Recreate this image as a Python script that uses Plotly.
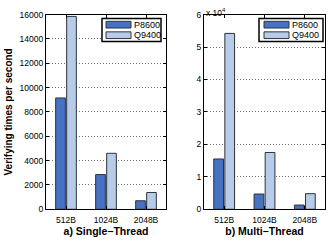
import plotly.graph_objects as go

categories = ["512B", "1024B", "2048B"]
single_p8600 = [9150, 2850, 700]
single_q9400 = [15850, 4600, 1380]
multi_p8600 = [15500, 4700, 1300]
multi_q9400 = [54200, 17500, 4800]
series_names = ["P8600", "Q9400"]
left_ticks = [0, 2000, 4000, 6000, 8000, 10000, 12000, 14000, 16000]
left_ticktext = ["0", "2000", "4000", "6000", "8000", "10000", "12000", "14000", "16000"]
right_ticks = [0, 10000, 20000, 30000, 40000, 50000, 60000]
right_ticktext = ["0", "1", "2", "3", "4", "5", "6"]

C1 = "rgb(70,114,196)"
C2 = "rgb(183,204,232)"
EDGE = "rgb(45,50,60)"
FONT = "Liberation Sans, Arial, sans-serif"
colors = [C1, C2]

fig = go.Figure()
for ys, ax in [((single_p8600, single_q9400), ("x", "y")), ((multi_p8600, multi_q9400), ("x2", "y2"))]:
    for name, vals, col in zip(series_names, ys, colors):
        fig.add_trace(go.Bar(x=categories, y=vals, name=name, showlegend=False,
                             marker=dict(color=col, line=dict(color=EDGE, width=1)),
                             xaxis=ax[0], yaxis=ax[1]))

W, H = 330, 244
def px(x):
    return x / W
def py(y):
    return 1 - y / H

axis_common = dict(showline=True, linecolor="black", linewidth=1.2, mirror="allticks",
                   ticks="inside", ticklen=3, tickcolor="black",
                   tickfont=dict(size=8.5, color="black", family=FONT))
grid = dict(showgrid=True, gridcolor="rgb(110,110,110)", griddash="1px,2px", gridwidth=1)

shapes = []
annotations = [dict(text="x 10<sup>4</sup>", x=px(204), y=py(0), xref="paper", yref="paper",
                    xanchor="left", yanchor="top", showarrow=False, font=dict(size=8.5))]

# manual MATLAB-style legends
for (bx0, bx1, sx0) in [(102, 161, 106), (259, 323, 264)]:
    shapes.append(dict(type="rect", xref="paper", yref="paper", x0=px(bx0), x1=px(bx1),
                       y0=py(38), y1=py(14), line=dict(color="black", width=1.5), fillcolor="white", layer="above"))
    for i, (name, col) in enumerate(zip(series_names, colors)):
        top = 17 + i * 11
        shapes.append(dict(type="rect", xref="paper", yref="paper", x0=px(sx0), x1=px(sx0 + 25),
                           y0=py(top + 7), y1=py(top), line=dict(color=EDGE, width=1), fillcolor=col, layer="above"))
        annotations.append(dict(text=name, x=px(sx0 + 26), y=py(top + 3.5), xref="paper", yref="paper",
                                xanchor="left", yanchor="middle", showarrow=False,
                                font=dict(size=9, color="black")))

fig.update_layout(
    width=W, height=H, margin=dict(l=0, r=0, t=0, b=0),
    paper_bgcolor="white", plot_bgcolor="white",
    barmode="group", bargap=0.45, bargroupgap=0.12,
    font=dict(family=FONT, color="black"),
    xaxis=dict(domain=[px(46), px(166)], anchor="y", range=[-0.5, 2.5], showgrid=False, ticklabelstandoff=2,
               title=dict(text="<b>a) Single−Thread</b>", font=dict(size=10.5), standoff=3), **axis_common),
    yaxis=dict(domain=[py(213), py(10)], anchor="x", range=[0, 16000], tickvals=left_ticks, ticktext=left_ticktext,
               title=dict(text="<b>Verifying times per second</b>", font=dict(size=10), standoff=5),
               **grid, **axis_common),
    xaxis2=dict(domain=[px(204), px(325)], anchor="y2", range=[-0.5, 2.5], showgrid=False, ticklabelstandoff=2,
                title=dict(text="<b>b) Multi−Thread</b>", font=dict(size=10.5), standoff=3), **axis_common),
    yaxis2=dict(domain=[py(213), py(10)], anchor="x2", range=[0, 60000], tickvals=right_ticks, ticktext=right_ticktext,
                **grid, **axis_common),
    shapes=shapes,
    annotations=annotations,
)

fig.write_html("out.html")
